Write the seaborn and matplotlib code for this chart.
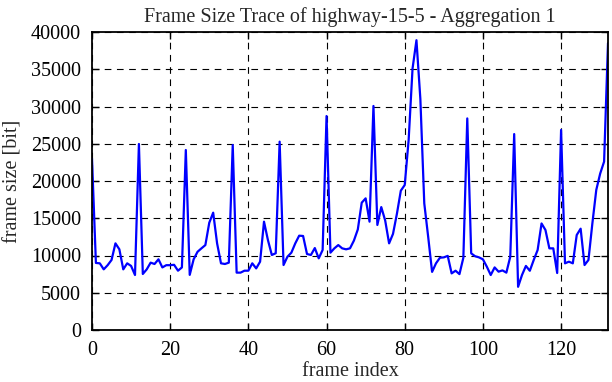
import matplotlib
matplotlib.use("Agg")
import matplotlib.pyplot as plt
import numpy as np
import pandas as pd
import seaborn as sns

TITLE = "Frame Size Trace of highway-15-5 - Aggregation 1"
X_LABEL = "frame index"
Y_LABEL = "frame size [bit]"

# frame sizes in bit, frames 0..132
frame_size = [
    23000, 9000, 8950, 8140, 8700, 9400, 11630, 10830, 8140, 8950,
    8600, 7380, 24970, 7520, 8140, 9040, 8860, 9490, 8400, 8700,
    8700, 8750, 7960, 8400, 24160, 7400, 9490, 10500, 10960, 11400,
    14400, 15750, 11630, 8950, 8860, 9040, 24830, 7700, 7700, 7960,
    7960, 8950, 8270, 9170, 14540, 12080, 10070, 10300, 25280, 8720,
    9840, 10380, 11630, 12660, 12620, 10200, 10070, 11000, 9620, 10740,
    28720, 10380, 10960, 11400, 10960, 10830, 10960, 12000, 13500, 17090,
    17670, 14540, 30070, 14100, 16500, 14700, 11630, 12900, 15600, 18700,
    19460, 25500, 35100, 38900, 31000, 17000, 12500, 7800, 8950, 9700,
    9750, 9950, 7600, 7960, 7500, 9700, 28400, 10290, 9900, 9750,
    9490, 8500, 7380, 8400, 7830, 8000, 7700, 9840, 26300, 5800,
    7380, 8600, 7950, 9400, 10740, 14300, 13420, 10960, 10960, 7650,
    26850, 8950, 9170, 8950, 12750, 13600, 8720, 9400, 14300, 18800,
    21000, 22600, 38500,
]
frame_index = list(range(len(frame_size)))

x_ticks = [0, 20, 40, 60, 80, 100, 120]
y_ticks = [0, 5000, 10000, 15000, 20000, 25000, 30000, 35000, 40000]

df = pd.DataFrame({"frame": frame_index, "size": frame_size})

sns.set_style("ticks")
plt.rcParams["font.family"] = ["Liberation Serif", "DejaVu Serif"]

fig = plt.figure(figsize=(6.12, 3.82), dpi=100)
ax = fig.add_axes([92 / 612, 1 - 330 / 382, 516 / 612, 298 / 382])

sns.lineplot(data=df, x="frame", y="size", color="#0000ff", linewidth=1.6, ax=ax)

ax.set_xlim(0, frame_index[-1])
ax.set_ylim(0, 40000)
ax.set_xticks(x_ticks)
ax.set_yticks(y_ticks)
ax.tick_params(direction="in", top=True, right=True, length=5, width=1,
               labelsize=14.5, colors="black")
ax.tick_params(axis="x", pad=8)
ax.tick_params(axis="y", pad=8)
ax.grid(True, color="black", linestyle=(0, (6, 5)), linewidth=0.8)
for sp in ax.spines.values():
    sp.set_linewidth(1.3)
    sp.set_color("black")

ax.set_title(TITLE, fontsize=14.5, pad=7)
ax.set_xlabel(X_LABEL, fontsize=14.5, labelpad=1)
ax.set_ylabel(Y_LABEL, fontsize=14.5, labelpad=6)

fig.savefig("out.png", dpi=100)
